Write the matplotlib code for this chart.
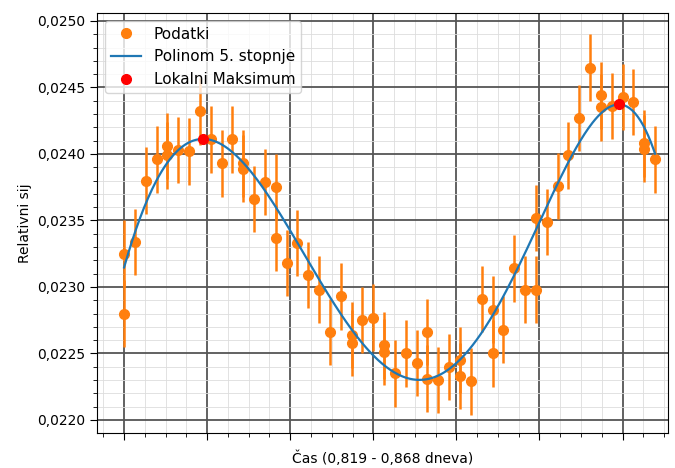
import numpy as np
import matplotlib
matplotlib.use('Agg')
import matplotlib.pyplot as plt
from matplotlib.ticker import MultipleLocator, FuncFormatter

# Sample index (0 -> 0,819 d, 49 -> 0,868 d); some samples have two measurements
sample_idx = [0, 0, 1, 2, 3, 4, 4, 5, 6, 7, 8, 9, 10, 11, 11, 12, 13, 14, 14,
              15, 16, 17, 18, 19, 20, 21, 21, 22, 23, 24, 24, 25, 26, 27, 28, 28,
              29, 30, 31, 31, 32, 33, 34, 34, 35, 36, 37, 38, 38, 39, 40, 41, 42,
              43, 44, 44, 45, 46, 47, 48, 48, 49]

rel_flux = [0.02280, 0.02325, 0.02334, 0.02380, 0.02396, 0.02406, 0.02399,
            0.02403, 0.02402, 0.02432, 0.02411, 0.02393, 0.02411,
            0.02393, 0.02389, 0.02366, 0.02379, 0.02375, 0.02337, 0.02318,
            0.02333, 0.02309, 0.02298, 0.02266, 0.02293, 0.02264, 0.02258,
            0.02275, 0.02277, 0.02256, 0.02251, 0.02235, 0.02250, 0.02243,
            0.02266, 0.02231, 0.02230, 0.02240, 0.02245, 0.02233, 0.02229,
            0.02291, 0.02283, 0.02250, 0.02268, 0.02314, 0.02298, 0.02298,
            0.02352, 0.02349, 0.02376, 0.02399, 0.02427, 0.02465, 0.02444,
            0.02435, 0.02436, 0.02443, 0.02439, 0.02408, 0.02404, 0.02396]

flux_err = 0.00025

x = np.array(sample_idx, dtype=float)
y = np.array(rel_flux)

# 5th degree polynomial fit
poly = np.polynomial.Polynomial.fit(x, y, 5)
x_fit = np.linspace(x.min(), x.max(), 400)
y_fit = poly(x_fit)

# Local maxima of the fit
crit = poly.deriv().roots()
crit = crit[np.isreal(crit)].real
crit = crit[(crit > x.min()) & (crit < x.max())]
x_max = np.array([c for c in crit if poly.deriv(2)(c) < 0])
y_max = poly(x_max)

fig = plt.figure(figsize=(6.75, 4.68), dpi=100)
ax = fig.add_axes([0.1437, 0.0748, 0.846, 0.8974])

ax.errorbar(x, y, yerr=flux_err, fmt='none', ecolor='tab:orange',
            elinewidth=1.8, capsize=0, zorder=2)
ax.plot(x, y, 'o', color='tab:orange', markersize=7, label='Podatki', zorder=3)
ax.plot(x_fit, y_fit, color='tab:blue', linewidth=1.6,
        label='Polinom 5. stopnje', zorder=4)
ax.plot(x_max, y_max, 'o', color='red', markersize=7,
        label='Lokalni Maksimum', zorder=5)

ax.set_xlim(-2.5, 50.2)
ax.set_ylim(0.021902, 0.02506)

ax.xaxis.set_major_locator(MultipleLocator(46 / 6))
ax.xaxis.set_minor_locator(MultipleLocator(46 / 24))
ax.yaxis.set_major_locator(MultipleLocator(0.0005))
ax.yaxis.set_minor_locator(MultipleLocator(0.0001))
ax.xaxis.set_major_formatter(FuncFormatter(lambda v, p: ''))
ax.yaxis.set_major_formatter(FuncFormatter(lambda v, p: f'{v:.4f}'.replace('.', ',')))

ax.grid(which='major', color='#555555', linewidth=1.3)
ax.grid(which='minor', color='#dddddd', linewidth=0.6)
ax.set_axisbelow(True)
ax.tick_params(which='major', length=5, labelsize=10)
ax.tick_params(which='minor', length=3)

ax.set_xlabel('Čas (0,819 - 0,868 dneva)', fontsize=10)
ax.set_ylabel('Relativni sij', fontsize=10)

ax.legend(loc='upper left', fontsize=11)

fig.savefig('out.png', dpi=100)
